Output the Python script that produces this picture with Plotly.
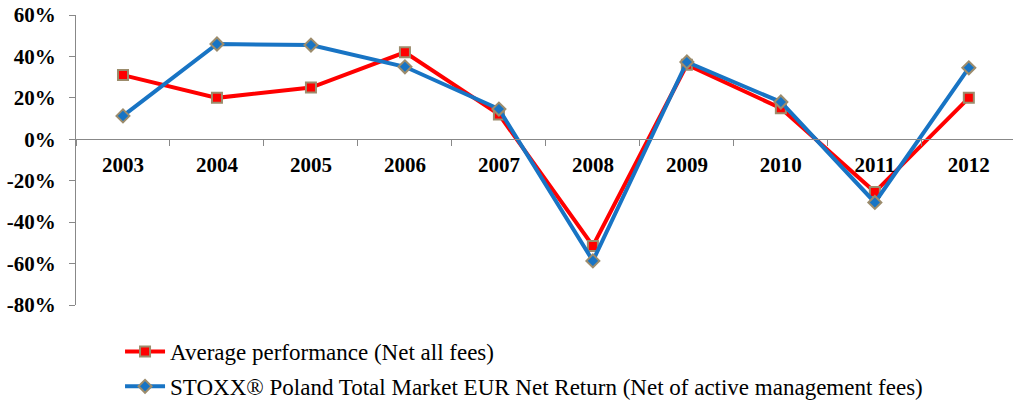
import plotly.graph_objects as go

years = ["2003", "2004", "2005", "2006", "2007", "2008", "2009", "2010", "2011", "2012"]
avg_perf = [31, 20, 25, 42, 12, -51.5, 36, 15, -25.5, 20]
stoxx = [11.3, 46, 45.5, 35, 14.6, -58.7, 37.3, 18, -30.5, 34.5]
y_ticks = [-80, -60, -40, -20, 0, 20, 40, 60]
y_tick_labels = [f"{v}%" for v in y_ticks]

serif = "Liberation Serif, Times New Roman, DejaVu Serif, serif"

fig = go.Figure()
fig.add_trace(go.Scatter(
    x=years, y=avg_perf, mode="lines+markers",
    name="Average performance (Net all fees)", legendgroup="a",
    line=dict(color="#FF0000", width=4),
    marker=dict(symbol="square", size=10, color="#FF0000",
                line=dict(color="#9C8C6C", width=2)),
))
fig.add_trace(go.Scatter(
    x=years, y=stoxx, mode="lines+markers",
    name="STOXX® Poland Total Market EUR Net Return (Net of active management fees)",
    legendgroup="b",
    line=dict(color="#1874C4", width=4),
    marker=dict(symbol="diamond", size=10, color="#1874C4",
                line=dict(color="#9C8C6C", width=2)),
))

fig.update_layout(
    width=1013, height=406,
    margin=dict(l=76, r=0, t=15, b=101, autoexpand=False),
    plot_bgcolor="white", paper_bgcolor="white",
    font=dict(family=serif),
    showlegend=True,
    legend=dict(x=0.047, y=-0.086, xanchor="left", yanchor="top",
                font=dict(family=serif, size=23, color="black"),
                tracegroupgap=2, itemwidth=40),
    xaxis=dict(
        type="category", range=[-0.5, 9.47],
        anchor="free", position=80 / 140, automargin=False,
        showline=True, linecolor="#888888", linewidth=1,
        ticks="outside", tickson="boundaries", ticklen=6, tickcolor="#888888",
        ticklabelstandoff=7,
        showgrid=False, zeroline=False,
        tickfont=dict(family=serif, size=21, color="black", weight="bold"),
    ),
    yaxis=dict(
        range=[-80, 60], tickvals=y_ticks, ticktext=y_tick_labels,
        showline=True, linecolor="#888888", linewidth=1, automargin=False,
        ticks="outside", ticklen=6, tickcolor="#888888",
        ticklabelstandoff=9,
        showgrid=False, zeroline=False, ticklabeloverflow="allow",
        tickfont=dict(family=serif, size=21, color="black", weight="bold"),
    ),
)

fig.write_html("out.html", config={"displayModeBar": False},
               post_script="document.body.style.margin='0';")
